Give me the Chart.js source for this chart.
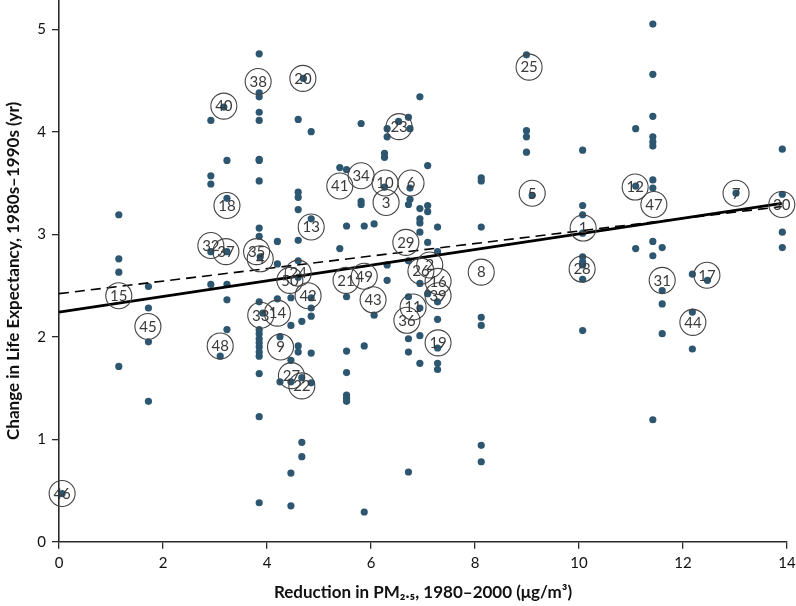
<!DOCTYPE html>
<html><head><meta charset="utf-8">
<script src="https://cdn.jsdelivr.net/npm/chart.js@4.4.1/dist/chart.umd.min.js"></script>
<style>html,body{margin:0;padding:0;background:#fff}canvas{display:block}</style>
</head><body>
<canvas id="c" width="796" height="606"></canvas>
<script>
// ---- tick labels ----
const xTicks = [0, 2, 4, 6, 8, 10, 12, 14];
const yTicks = [0, 1, 2, 3, 4, 5];

// ---- individual county/area points (x = PM2.5 reduction, y = change in life expectancy) ----
const dotX = [
  0.06,
  1.15, 1.15, 1.15, 1.15,
  1.72, 1.72, 1.72, 1.72,
  2.92, 2.92, 2.92, 2.92, 2.92,
  3.10, 3.17,
  3.23, 3.23, 3.23, 3.23, 3.23, 3.23,
  3.85, 3.85, 3.85, 3.85, 3.85, 3.85, 3.85, 3.85, 3.85, 3.85, 3.85, 3.85, 3.85, 3.85, 3.85, 3.85, 3.85, 3.85, 3.85, 3.85, 3.85,
  3.87, 3.92,
  4.20, 4.20, 4.20,
  4.25, 4.25,
  4.46, 4.46, 4.46, 4.46, 4.46, 4.46,
  4.60, 4.60, 4.60, 4.60, 4.60, 4.60, 4.60, 4.60, 4.60,
  4.67, 4.67, 4.67, 4.67,
  4.70,
  4.85, 4.85, 4.85, 4.85, 4.85, 4.85, 4.85,
  5.40, 5.40,
  5.53, 5.53, 5.53, 5.53, 5.53, 5.53, 5.53, 5.53,
  5.81, 5.81, 5.81,
  5.87, 5.87, 5.87,
  6.06, 6.06,
  6.26, 6.26, 6.26,
  6.31, 6.31, 6.31, 6.31,
  6.53,
  6.72, 6.72, 6.72, 6.72, 6.72, 6.72, 6.72,
  6.75, 6.75, 6.75,
  6.94, 6.94, 6.94, 6.94, 6.94, 6.94, 6.94, 6.94, 6.94,
  7.09, 7.09, 7.09, 7.09, 7.09,
  7.28, 7.28, 7.28, 7.28, 7.28, 7.28, 7.28,
  8.12, 8.12, 8.12, 8.12, 8.12, 8.12, 8.12,
  8.99, 8.99, 8.99, 8.99,
  9.10,
  10.07, 10.07, 10.07, 10.07, 10.07, 10.07, 10.07, 10.07, 10.07,
  11.09, 11.09, 11.09,
  11.42, 11.42, 11.42, 11.42, 11.42, 11.42, 11.42, 11.42, 11.42, 11.42, 11.42,
  11.60, 11.60, 11.60, 11.60,
  12.18, 12.18, 12.18,
  12.47, 13.02,
  13.91, 13.91, 13.91, 13.91
];
const dotY = [
  0.47,
  3.19, 2.76, 2.63, 1.71,
  2.49, 2.28, 1.95, 1.37,
  4.11, 3.57, 3.49, 2.83, 2.51,
  1.81, 4.24,
  3.72, 3.35, 2.83, 2.51, 2.36, 2.07,
  4.76, 4.38, 4.34, 4.19, 4.11, 3.73, 3.72, 3.52, 3.06, 2.98, 2.34, 2.07, 2.03, 1.98, 1.94, 1.90, 1.85, 1.81, 1.64, 1.22, 0.38,
  2.78, 2.23,
  2.93, 2.71, 2.37,
  2.00, 1.56,
  2.38, 2.11, 1.77, 0.67, 0.35, 1.56,
  4.12, 3.41, 3.36, 3.24, 2.94, 2.74, 1.91, 1.85, 2.58,
  2.15, 0.97, 0.83, 1.60,
  4.52,
  4.00, 3.15, 2.28, 2.20, 1.84, 1.55, 2.38,
  3.65, 2.86,
  3.63, 3.08, 2.39, 1.86, 1.65, 1.43, 1.40, 1.37,
  4.08, 3.32, 3.29,
  3.08, 1.91, 0.29,
  3.10, 2.21,
  3.79, 3.75, 3.46,
  4.03, 3.95, 2.70, 2.55,
  4.10,
  4.14, 3.29, 2.74, 1.98, 1.85, 0.68, 2.39,
  4.03, 3.34, 3.45,
  4.34, 3.25, 3.15, 3.11, 3.02, 2.52, 2.28, 2.01, 1.74,
  3.67, 3.28, 3.22, 2.92, 2.42,
  3.07, 2.83, 2.34, 2.17, 1.89, 1.74, 1.68,
  3.55, 3.52, 3.07, 2.19, 2.11, 0.94, 0.78,
  4.75, 4.01, 3.95, 3.80,
  3.38,
  3.82, 3.28, 3.19, 3.01, 2.78, 2.73, 2.70, 2.56, 2.06,
  4.03, 2.86, 3.47,
  5.05, 4.56, 4.15, 3.95, 3.90, 3.86, 3.53, 3.45, 2.93, 2.79, 1.19,
  2.87, 2.45, 2.32, 2.03,
  2.61, 2.24, 1.88,
  2.55, 3.40,
  3.83, 3.39, 3.02, 2.87
];

// ---- numbered circles (metropolitan areas) ----
const circleIds = ['46','15','45','32','37','18','40','48','38','35','4','33','14','9','27','22','24','50','42','13','20',
  '41','34','10','6','3','23','29','21','49','43','26','2','16','39','19','11','36','8','25','5','1','28','12','47','31','17','44','7','30'];
const circleX = [0.06, 1.15, 1.71, 2.92, 3.21, 3.23, 3.17, 3.10, 3.83, 3.80, 3.87, 3.88, 4.20, 4.26, 4.47, 4.67, 4.60, 4.44, 4.79, 4.85, 4.69,
  5.40, 5.81, 6.27, 6.77, 6.29, 6.54, 6.67, 5.52, 5.87, 6.04, 6.96, 7.13, 7.29, 7.29, 7.29, 6.81, 6.69, 8.12, 9.04, 9.10, 10.08, 10.06, 11.08, 11.44, 11.60, 12.46, 12.19, 13.02, 13.90];
const circleY = [0.47, 2.40, 2.10, 2.89, 2.83, 3.28, 4.25, 1.91, 4.49, 2.83, 2.76, 2.21, 2.23, 1.90, 1.62, 1.52, 2.62, 2.55, 2.40, 3.07, 4.52,
  3.47, 3.57, 3.50, 3.50, 3.31, 4.05, 2.92, 2.55, 2.59, 2.36, 2.64, 2.70, 2.54, 2.40, 1.94, 2.29, 2.16, 2.63, 4.63, 3.40, 3.06, 2.66, 3.46, 3.29, 2.55, 2.60, 2.14, 3.40, 3.29];

// ---- regression lines ----
const fitSolidX = [0, 13.9], fitSolidY = [2.24, 3.30];
const fitDashX = [0, 13.9], fitDashY = [2.42, 3.27];

const xTitle = 'Reduction in PM\u2082.\u2085, 1980\u20132000 (\u03bcg/m\u00b3)';
const yTitle = 'Change in Life Expectancy, 1980s\u20131990s (yr)';

const toPts = (xs, ys) => xs.map((x, i) => ({x, y: ys[i]}));

const labelPlugin = {
  id: 'circleLabels',
  afterDatasetsDraw(chart) {
    const meta = chart.getDatasetMeta(0);
    const ctx = chart.ctx;
    ctx.save();
    ctx.font = '15px Lato, "DejaVu Sans Condensed", sans-serif';
    ctx.fillStyle = '#3a3a3a';
    ctx.textAlign = 'center';
    ctx.textBaseline = 'middle';
    meta.data.forEach((pt, i) => ctx.fillText(circleIds[i], pt.x, pt.y + 0.5));
    ctx.restore();
  }
};

const zeroPad = s => { s.paddingTop = 0; s.paddingBottom = 0; s.paddingLeft = 0; s.paddingRight = 0; };

const axisColor = '#2a2a2a';
const tickFont = {family: 'Lato', size: 15};
const titleFont = {family: 'Lato', size: 17, weight: 'bold'};

new Chart(document.getElementById('c'), {
  type: 'scatter',
  data: {
    datasets: [
      {
        label: 'areas',
        data: toPts(circleX, circleY),
        pointRadius: 13, pointHoverRadius: 13,
        pointBackgroundColor: 'rgba(0,0,0,0)',
        pointBorderColor: '#444', pointBorderWidth: 1.1,
        order: 0, clip: false
      },
      {
        type: 'line', label: 'fit', data: toPts(fitSolidX, fitSolidY),
        borderColor: '#000', borderWidth: 2.7, pointRadius: 0, order: 1, clip: false
      },
      {
        type: 'line', label: 'fit2', data: toPts(fitDashX, fitDashY),
        borderColor: '#000', borderWidth: 1.6, borderDash: [10, 6], pointRadius: 0, order: 1, clip: false
      },
      {
        label: 'counties',
        data: toPts(dotX, dotY),
        pointRadius: 3.6, pointHoverRadius: 3.6,
        pointBackgroundColor: '#2d5670', pointBorderWidth: 0,
        order: 2, clip: false
      }
    ]
  },
  options: {
    responsive: false,
    animation: false,
    devicePixelRatio: 1,
    layout: {autoPadding: false, padding: {left: 0, right: 9, top: 0, bottom: 0}},
    plugins: {legend: {display: false}, tooltip: {enabled: false}},
    scales: {
      x: {
        type: 'linear', min: 0, max: 14,
        afterBuildTicks: s => { s.ticks = xTicks.map(v => ({value: v})); },
        afterFit: s => { s.height = 64.3; zeroPad(s); },
        grid: {display: true, drawOnChartArea: false, drawTicks: true, tickLength: 7, color: axisColor, lineWidth: 1.3},
        border: {display: true, color: axisColor, width: 1.6},
        ticks: {font: tickFont, color: '#111', padding: 5, maxRotation: 0},
        title: {display: true, text: xTitle, font: titleFont, color: '#111', padding: {top: 0, bottom: 3}}
      },
      y: {
        type: 'linear', min: 0, max: 5.285,
        afterBuildTicks: s => { s.ticks = yTicks.map(v => ({value: v})); },
        afterFit: s => { s.width = 59; zeroPad(s); },
        grid: {display: true, drawOnChartArea: false, drawTicks: true, tickLength: 7, color: axisColor, lineWidth: 1.3},
        border: {display: true, color: axisColor, width: 1.6},
        ticks: {font: tickFont, color: '#111', padding: 6},
        title: {display: true, text: yTitle, font: titleFont, color: '#111', padding: {top: 3, bottom: 2}}
      }
    }
  },
  plugins: [labelPlugin]
});
</script>
</body></html>
